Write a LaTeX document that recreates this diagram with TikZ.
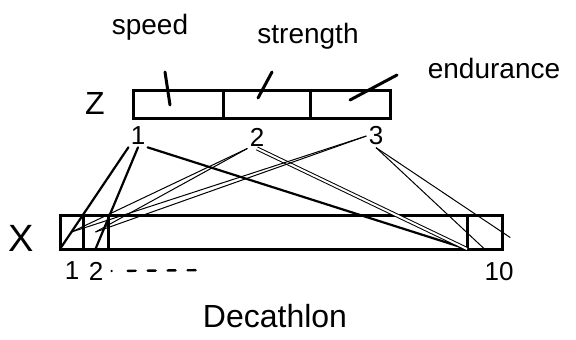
\documentclass[tikz,border=0pt]{standalone}
\usepackage{fontspec}
\setmainfont{Liberation Sans}
\usetikzlibrary{positioning, calc}

\begin{document}
\begin{tikzpicture}[
    x=0.5pt, y=-0.5pt,
    cell/.style={rectangle, draw=black, line width=1.5pt, inner sep=0pt, outer sep=0pt},
    zcell/.style={cell, minimum height=14pt},
    xcell/.style={cell, minimum height=17pt},
    word/.style={font=\fontsize{14}{16}\selectfont},
    bigword/.style={font=\fontsize{16}{18}\selectfont},
    num/.style={font=\fontsize{13}{15}\selectfont, inner sep=1pt},
    tick/.style={line width=1.5pt, line cap=round},
    link/.style={line width=0.5pt},
    heavylink/.style={line width=1.1pt, line cap=round},
]
\useasboundingbox (0,0) rectangle (576,339);

% ===== Top: Z =====
\node[zcell, minimum width=45pt] (zs) at (178,104) {};
\node[zcell, minimum width=43.5pt] (zt) at (266.5,104) {};
\node[zcell, minimum width=40pt] (ze) at (350,104) {};
\node[bigword] (zlab) at (95,103) {Z};

\node[word] (speed) at (150,27) {speed};
\node[word] (strength) at (308,36) {strength};
\node[word] (endur) at (494,68) {endurance};

\draw[tick] ($(zs.north)+(-13,-18)$) -- ($(zs.north)+(-8,15)$);
\draw[tick] ($(zt.north)+(5.5,-18)$) -- ($(zt.north)+(-8.5,8)$);
\draw[tick] ($(ze.north)+(0,10)$) -- ($(ze.north)+(47,-15)$);

\node[num] (z1) at (138,136) {1};
\node[num] (z2) at (257,137) {2};
\node[num] (z3) at (376,136) {3};

% ===== Bottom: X =====
\node[xcell, minimum width=11.5pt] (x1) at (71.5,232) {};
\node[xcell, minimum width=12.5pt] (x2) at (95.5,232) {};
\node[xcell, minimum width=179.5pt] (xmid) at (287.5,232) {};
\node[xcell, minimum width=17.5pt] (x10) at (484.5,232) {};
\node[font=\fontsize{19}{21}\selectfont] (xlab) at (21,238) {X};

\node[num] (xn1) at (72,271) {1};
\node[num] (xn2) at (96,271) {2};
\node[num] (xn10) at (499,272) {10};
\coordinate (dotsend) at (212,270);
\draw[line width=1.2pt, line cap=round,
      dash pattern=on 0pt off 8pt on 4pt off 6pt on 4pt off 6pt on 4pt off 6pt on 4pt off 12pt]
    (xn2.east) ++(6,0) -- (dotsend);

\node[bigword] (title) at (275,316) {Decathlon};

% ===== Links =====
\draw[heavylink] (z1.south west) -- (x1.south west);
\draw[heavylink] (z1.south) -- (x2.south);
\draw[heavylink] (z1.south east) -- (x10.south west);

\draw[link] (z2.south west) -- (x1.center);
\draw[link] (z2.south west) -- (x2.center);
\draw[link, double, double distance=1pt] (z2.south) -- (x10.south west);

\draw[link] (z3.west) -- (x1.center);
\draw[link] (z3.west) -- (x2.center);
\draw[link] (z3.south) -- (x10.south);
\draw[link, shorten >=-5pt] (z3.south) -- (x10.east);

\end{tikzpicture}
\end{document}
